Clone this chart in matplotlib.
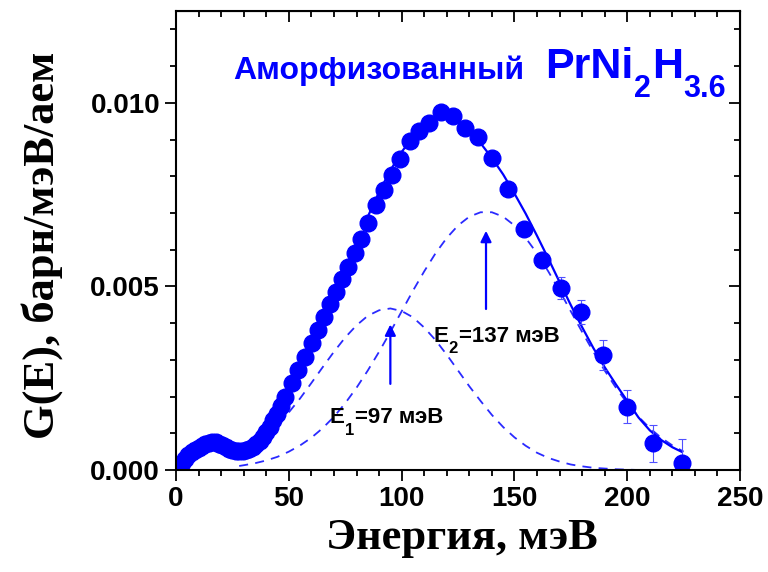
import matplotlib
matplotlib.use('Agg')
import matplotlib.pyplot as plt
from matplotlib.ticker import MultipleLocator, NullFormatter

plt.rcParams['font.family'] = ['Liberation Sans', 'DejaVu Sans']
plt.rcParams['font.weight'] = 'bold'

# measured points (energy, meV ; G(E))
energy = [1, 2.5, 4, 5.5, 7, 8.5, 10, 11.5, 13, 14.5, 16, 17.5, 19, 20.5, 22,
          23.5, 25, 26.5, 28, 29.5, 31, 32.5, 34, 35.5, 37, 38.5, 40, 41.6,
          43.2, 44.8, 46.5, 48.3, 51.3, 54.2, 57.2, 60.1, 63.1, 65.6, 68.3,
          70.9, 73.6, 76.4, 79.2, 82.0, 85.3, 88.5, 92.2, 95.9, 99.3, 103.7,
          107.8, 112.3, 117.5, 122.9, 128.2, 134.0, 140.2, 147.3, 154.4, 162.4,
          170.5, 179.4, 189.1, 200.1, 211.6, 224.2]
gE = [0.00008, 0.0002, 0.0003, 0.0004, 0.00048, 0.00055, 0.00061, 0.00066,
      0.0007, 0.00074, 0.00077, 0.00076, 0.00072, 0.00067, 0.00062, 0.00058,
      0.00055, 0.00053, 0.00052, 0.00053, 0.00055, 0.00058, 0.00063, 0.0007,
      0.00079, 0.0009, 0.00103, 0.00118, 0.00135, 0.00153, 0.00174, 0.00198,
      0.00236, 0.00272, 0.00309, 0.00345, 0.00381, 0.00418, 0.00452, 0.00485,
      0.0052, 0.00554, 0.0059, 0.00629, 0.00672, 0.00722, 0.00763, 0.00804,
      0.00847, 0.00895, 0.00922, 0.00945, 0.00976, 0.00963, 0.00931, 0.00908,
      0.00849, 0.00765, 0.00656, 0.00572, 0.00497, 0.00431, 0.00313, 0.00172,
      0.00073, 0.0002]
# error bars only visible on the high energy tail
e_err = [147.3, 154.4, 162.4, 170.5, 179.4, 189.1, 200.1, 211.6, 224.2]
g_err = [0.00765, 0.00656, 0.00572, 0.00497, 0.00431, 0.00313, 0.00172, 0.00073, 0.0002]
err = [0.00005, 0.0001, 0.00015, 0.0003, 0.00032, 0.0004, 0.00045, 0.0005, 0.00065]

# fitted curves
e_fit = [85, 90, 95, 100, 105, 110, 115, 120, 125, 130, 135, 140, 145, 150,
         155, 160, 165, 170, 175, 180, 185, 190, 195, 200, 205, 210, 215, 220, 224]
g_fit = [0.0069, 0.00757, 0.00816, 0.00866, 0.00908, 0.0094, 0.0096, 0.00965,
         0.00952, 0.00925, 0.0089, 0.0085, 0.00805, 0.00753, 0.00698, 0.00638,
         0.00576, 0.00512, 0.00449, 0.00389, 0.00332, 0.0028, 0.00233, 0.00188,
         0.00143, 0.00108, 0.00082, 0.00062, 0.0005]

e_peak = [28, 30, 35, 40, 45, 50, 55, 60, 65, 70, 75, 80, 85, 90, 95, 100, 105,
          110, 115, 120, 125, 130, 135, 140, 145, 150, 155, 160, 165, 170, 175,
          180, 185, 190, 195, 200, 205, 210, 215, 220, 225]
peak1 = [0.00045, 0.000505, 0.0007, 0.00094, 0.00123, 0.00157, 0.00195, 0.00237,
         0.0028, 0.00322, 0.00361, 0.00394, 0.0042, 0.00435, 0.0044, 0.00433,
         0.00416, 0.00388, 0.00354, 0.00314, 0.00271, 0.00228, 0.00188, 0.0015,
         0.00117, 0.00089, 0.00066, 0.00047, 0.00033, 0.00023, 0.00015, 0.0001,
         0.00006, 0.00004, 0.00002, 0.00001, 0.0, 0.0, 0.0, 0.0, 0.0]
peak2 = [0.00011, 0.00013, 0.000185, 0.00026, 0.00036, 0.0005, 0.00067, 0.00088,
         0.00114, 0.00145, 0.00182, 0.00224, 0.00271, 0.00322, 0.00376, 0.00432,
         0.00488, 0.00541, 0.0059, 0.00632, 0.00666, 0.0069, 0.00702, 0.00702,
         0.0069, 0.00666, 0.00632, 0.0059, 0.00541, 0.00488, 0.00432, 0.00376,
         0.00322, 0.00271, 0.00224, 0.00182, 0.00145, 0.00114, 0.00088, 0.00067,
         0.0005]

blue = '#0000ff'


def chain(ax, x, y, parts, color):
    # text pieces laid one after another, (string, size, drop in points)
    first = ax.text(x, y, parts[0][0], fontsize=parts[0][1], color=color,
                    fontweight='bold')
    prev, prev_drop = first, 0
    for s, size, drop in parts[1:]:
        prev = ax.annotate(s, xy=(1, 0), xycoords=prev,
                           xytext=(0.5, prev_drop - drop), textcoords='offset points',
                           fontsize=size, color=color, fontweight='bold',
                           ha='left', va='bottom')
        prev_drop = drop


fig = plt.figure(figsize=(7.68, 5.72), dpi=100)
ax = fig.add_axes([0.2292, 0.1783, 0.7344, 0.8024])

ax.plot(e_peak, peak1, '--', color='#2a2aff', lw=1.3, dashes=(5, 4))
ax.plot(e_peak, peak2, '--', color='#2a2aff', lw=1.3, dashes=(5, 4))
ax.plot(e_fit, g_fit, '-', color=blue, lw=1.6)
ax.errorbar(e_err, g_err, yerr=err, fmt='none', ecolor='#5050ff', elinewidth=0.8,
            capsize=3, capthick=0.8)
ax.plot(energy, gE, 'o', color=blue, ms=12, mec=blue)

# arrows to the two peaks
ax.annotate('', xy=(95, 0.00404), xytext=(95, 0.00227),
            arrowprops=dict(arrowstyle='-|>', color=blue, lw=1.6, mutation_scale=16))
ax.annotate('', xy=(137.4, 0.00659), xytext=(137.4, 0.00431),
            arrowprops=dict(arrowstyle='-|>', color=blue, lw=1.6, mutation_scale=16))
chain(ax, 68, 0.00128, [('E', 16, 0), ('1', 12, 7), ('=97 мэВ', 16, 0)], 'black')
chain(ax, 114, 0.0035, [('E', 16, 0), ('2', 12, 7), ('=137 мэВ', 16, 0)], 'black')

ax.text(25.3, 0.01065, 'Аморфизованный', fontsize=23, fontweight='bold', color=blue)
chain(ax, 163.6, 0.01068, [('PrNi', 31, 0), ('2', 22, 12), ('H', 31, 0), ('3.6', 22, 12)], blue)

ax.set_xlim(0, 250)
ax.set_ylim(0, 0.0125)
ax.xaxis.set_major_locator(MultipleLocator(50))
ax.xaxis.set_minor_locator(MultipleLocator(10))
ax.yaxis.set_major_locator(MultipleLocator(0.005))
ax.yaxis.set_minor_locator(MultipleLocator(0.001))
ax.yaxis.set_major_formatter(plt.FormatStrFormatter('%.3f'))
ax.tick_params(which='both', direction='out', labelsize=20, width=1.3)
ax.tick_params(which='major', length=8)
ax.tick_params(which='minor', length=4.5)
for s in ax.spines.values():
    s.set_linewidth(1.5)

# top and right: inward ticks, no labels
top = ax.secondary_xaxis('top')
top.xaxis.set_major_locator(MultipleLocator(50))
top.xaxis.set_minor_locator(MultipleLocator(10))
top.xaxis.set_major_formatter(NullFormatter())
top.tick_params(which='both', direction='in', width=1.3)
top.tick_params(which='major', length=8)
top.tick_params(which='minor', length=4.5)
right = ax.secondary_yaxis('right')
right.yaxis.set_major_locator(MultipleLocator(0.005))
right.yaxis.set_minor_locator(MultipleLocator(0.001))
right.yaxis.set_major_formatter(NullFormatter())
right.tick_params(which='both', direction='in', width=1.3)
right.tick_params(which='major', length=8)
right.tick_params(which='minor', length=4.5)

ax.set_xlabel('Энергия, мэВ', fontsize=32, fontweight='bold', family='Liberation Serif')
ax.set_ylabel('G(E), барн/мэВ/аем', fontsize=32, fontweight='bold', family='Liberation Serif')
ax.xaxis.set_label_coords(0.507, -0.105)
ax.yaxis.set_label_coords(-0.2, 0.49)

fig.savefig('out.png', dpi=100)
